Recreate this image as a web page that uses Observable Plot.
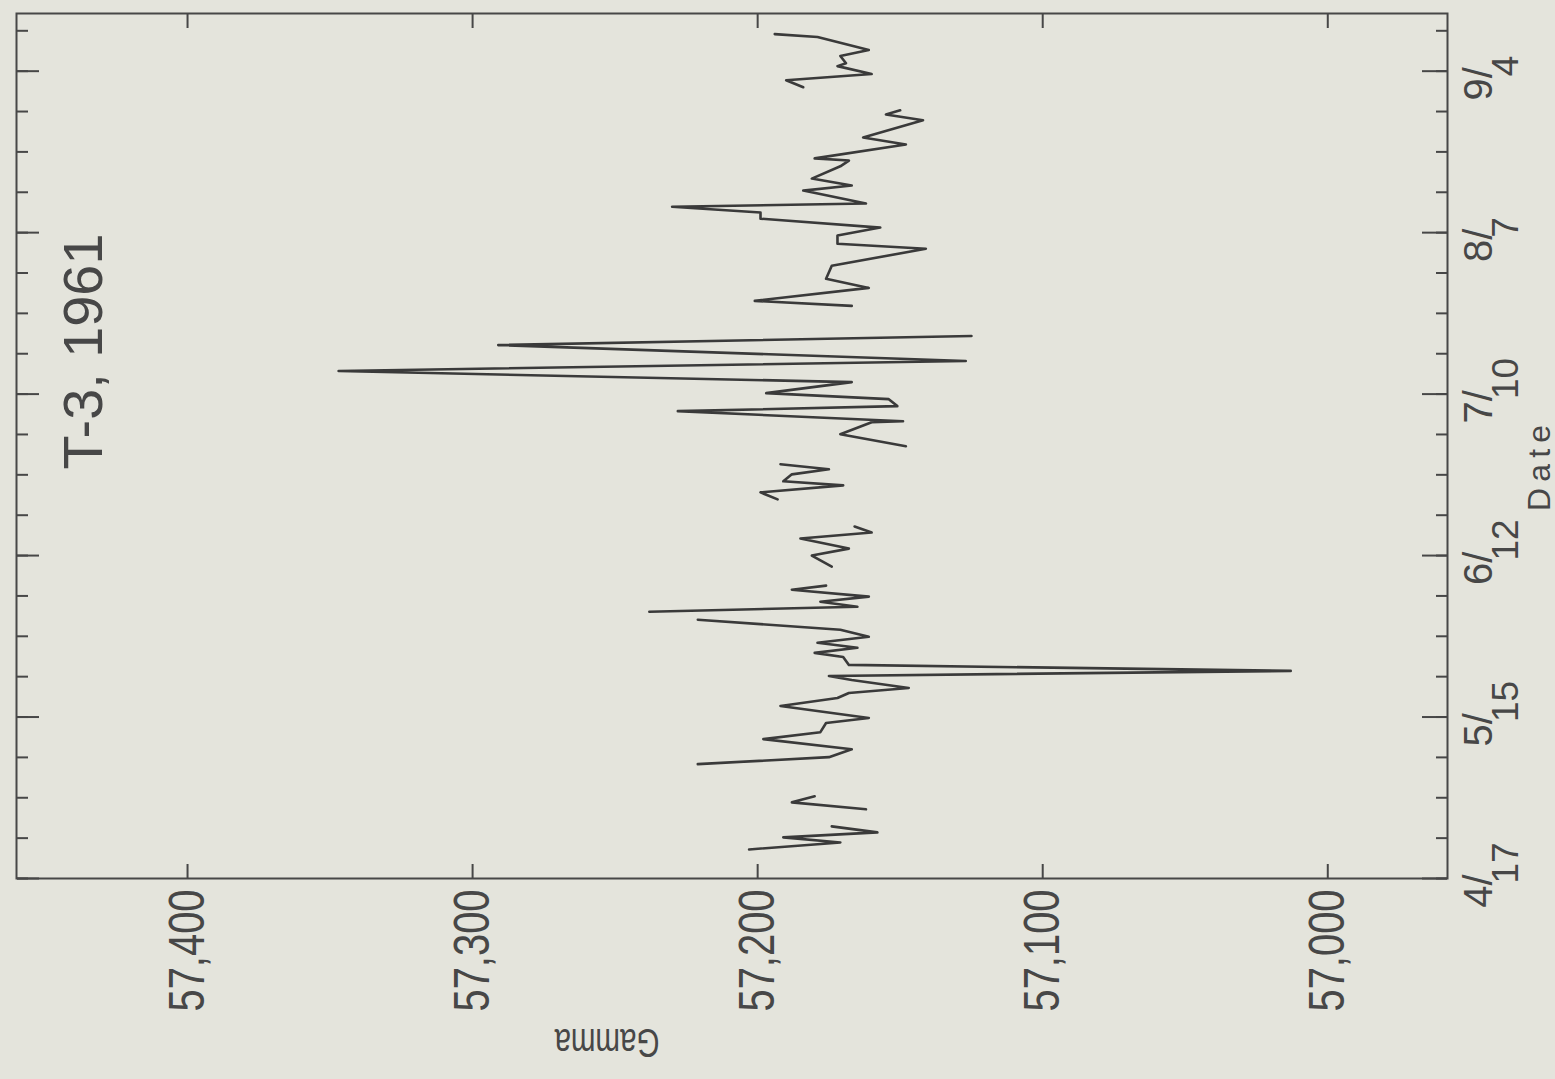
<!DOCTYPE html>
<html>
<head>
<meta charset="utf-8">
<script src="https://cdn.jsdelivr.net/npm/d3@7"></script>
<script src="https://cdn.jsdelivr.net/npm/@observablehq/plot@0.6"></script>
<style>
  html, body { margin: 0; padding: 0; background: #e4e4dc; overflow: hidden; width: 1555px; height: 1079px; }
  #wrap { position: absolute; left: 0; top: 0; width: 1079px; height: 1555px;
          transform-origin: 0 0; transform: translate(0, 1079px) rotate(-90deg); }
</style>
</head>
<body>
<div id="wrap"></div>
<script>
// ---- text ----
const title = "T-3, 1961";
const xLabel = "Date";
const yLabel = "Gamma";

// ---- axis ticks ----
const gammaTicks = [57000, 57100, 57200, 57300, 57400];
const weekTicks = ["1961-04-17","1961-04-24","1961-05-01","1961-05-08","1961-05-15","1961-05-22",
  "1961-05-29","1961-06-05","1961-06-12","1961-06-19","1961-06-26","1961-07-03","1961-07-10",
  "1961-07-17","1961-07-24","1961-07-31","1961-08-07","1961-08-14","1961-08-21","1961-08-28",
  "1961-09-04","1961-09-11"];
const labelDates = ["1961-04-17","1961-05-15","1961-06-12","1961-07-10","1961-08-07","1961-09-04"];
const labelNum = ["4/","5/","6/","7/","8/","9/"];
const labelDen = ["17","15","12","10","7","4"];

// ---- series: the record is broken into 9 pieces (gaps between them) ----
const segmentSizes = [5, 3, 22, 6, 6, 7, 13, 24, 9];
const dates = [
  "1961-04-22T01","1961-04-23T06","1961-04-24T03","1961-04-25T00","1961-04-26T01",
  "1961-04-29T00","1961-04-30T05","1961-05-01T06",
  "1961-05-06T20","1961-05-08T01","1961-05-09T10","1961-05-11T04","1961-05-12T09","1961-05-13T23",
  "1961-05-14T20","1961-05-16T22","1961-05-18T07","1961-05-19T04","1961-05-20T01","1961-05-21T10",
  "1961-05-22T03","1961-05-23T00","1961-05-24T01","1961-05-25T10","1961-05-26T03","1961-05-27T00",
  "1961-05-27T21","1961-05-28T22","1961-05-30T03","1961-05-31T21",
  "1961-06-02T06","1961-06-03T03","1961-06-04T00","1961-06-04T21","1961-06-06T02","1961-06-06T19",
  "1961-06-10T02","1961-06-12T00","1961-06-13T05","1961-06-14T23","1961-06-16T00","1961-06-17T01",
  "1961-06-21T18","1961-06-22T23","1961-06-24T04","1961-06-24T21","1961-06-26T02","1961-06-26T23","1961-06-27T20",
  "1961-06-30T23","1961-07-03T01","1961-07-05T03","1961-07-05T07","1961-07-07T01","1961-07-07T22",
  "1961-07-09T03","1961-07-10T04","1961-07-12T02","1961-07-14T00","1961-07-15T18","1961-07-18T12","1961-07-20T02",
  "1961-07-25T07","1961-07-26T04","1961-07-28T10","1961-07-30T00","1961-08-01T06","1961-08-04T05",
  "1961-08-05T02","1961-08-06T12","1961-08-07T21","1961-08-09T10","1961-08-10T12","1961-08-11T12",
  "1961-08-12T01","1961-08-14T07","1961-08-15T04","1961-08-16T09","1961-08-18T12","1961-08-19T12",
  "1961-08-19T21","1961-08-22T07","1961-08-23T12","1961-08-26T12","1961-08-27T12","1961-08-28T05",
  "1961-09-01T05","1961-09-02T10","1961-09-03T12","1961-09-04T21","1961-09-05T09","1961-09-06T15",
  "1961-09-07T16","1961-09-09T22","1961-09-10T10"
];
const gamma = [
  57203,57171,57191,57158,57174,
  57162,57188,57180,
  57221,57175,57167,57198,57178,57176,
  57161,57192,57172,57168,57147,57167,
  57175,57013,57168,57170,57180,57165,
  57179,57161,57171,57221,
  57238,57165,57178,57161,57188,57176,
  57174,57181,57168,57185,57160,57166,
  57193,57199,57170,57191,57188,57175,57192,
  57148,57171,57160,57149,57228,57151,
  57154,57197,57167,57347,57127,57291,57125,
  57167,57201,57161,57176,57174,57141,
  57172,57172,57157,57199,57199,57230,
  57162,57184,57167,57181,57171,57168,
  57180,57148,57163,57142,57155,57150,
  57184,57190,57160,57172,57169,57171,
  57161,57179,57194
];

// ---- build ----
const parseT = d3.utcParse("%Y-%m-%dT%H");
const parseD = d3.utcParse("%Y-%m-%d");
const segment = segmentSizes.flatMap((n, k) => Array(n).fill(k + 1));
const data = dates.map((d, i) => ({date: parseT(d), gamma: gamma[i], seg: segment[i]}));
const weekDates = weekTicks.map(parseD);
const labels = labelDates.map((d, i) => ({date: parseD(d), num: labelNum[i], den: labelDen[i]}));

const ink = "#474747";
const font = "'Liberation Sans','DejaVu Sans',sans-serif";
const blank = () => "";
const fmt = d3.format(",");

const chart = Plot.plot({
  width: 1079,
  height: 1555,
  marginLeft: 200,
  marginRight: 14,
  marginTop: 16,
  marginBottom: 108,
  style: {background: "transparent", color: ink, fontFamily: font, overflow: "visible"},
  x: {type: "utc", domain: [parseD("1961-04-17"), parseD("1961-09-14")]},
  y: {domain: [56958, 57460]},
  marks: [
    Plot.frame({stroke: ink, strokeWidth: 2}),
    Plot.axisX({anchor: "bottom", ticks: weekDates, tickSize: -11, tickFormat: blank, label: null, strokeWidth: 2}),
    Plot.axisX({anchor: "top", ticks: weekDates, tickSize: -11, tickFormat: blank, label: null, strokeWidth: 2}),
    Plot.axisX({anchor: "bottom", ticks: labels.map(d => d.date), tickSize: -25, tickFormat: blank, label: null, strokeWidth: 2}),
    Plot.axisX({anchor: "top", ticks: labels.map(d => d.date), tickSize: -22, tickFormat: blank, label: null, strokeWidth: 2}),
    Plot.axisY({anchor: "left", ticks: gammaTicks, tickSize: -15, tickFormat: blank, label: null, strokeWidth: 2}),
    Plot.axisY({anchor: "right", ticks: gammaTicks, tickSize: -15, tickFormat: blank, label: null, strokeWidth: 2}),
    Plot.axisY({anchor: "left", ticks: gammaTicks, tickSize: 0, tickPadding: 11, tickFormat: fmt,
                label: null, fontSize: 50, fill: ink}),
    Plot.text(labels, {x: "date", text: "num", frameAnchor: "bottom", lineAnchor: "top", textAnchor: "end",
                       dy: 16, dx: 4, fontSize: 40, fill: ink}),
    Plot.text(labels, {x: "date", text: "den", frameAnchor: "bottom", lineAnchor: "top", textAnchor: "start",
                       dy: 44, dx: -5, fontSize: 37, fill: ink}),
    Plot.text([xLabel], {text: d => d, frameAnchor: "bottom", lineAnchor: "top", textAnchor: "middle",
                         dy: 80, dx: -22, fontSize: 32, fill: ink}),
    Plot.text([yLabel], {text: d => d, frameAnchor: "left", lineAnchor: "bottom", textAnchor: "middle",
                         rotate: -90, dx: -150, dy: -125, fontSize: 40, fill: ink}),
    Plot.text([title], {text: d => d, frameAnchor: "top-left", lineAnchor: "top", textAnchor: "start",
                        dx: 409, dy: 46, fontSize: 56, fill: ink}),
    Plot.line(data, {x: "date", y: "gamma", z: "seg", stroke: "#3a3a3a", strokeWidth: 2.6, curve: "linear"})
  ]
});

const gammaText = new Set(gammaTicks.map(fmt));
d3.select(chart).selectAll("text").each(function() {
  const t = this.textContent, s = d3.select(this);
  if (gammaText.has(t)) s.attr("textLength", 122).attr("lengthAdjust", "spacingAndGlyphs");
  if (t === xLabel) s.attr("textLength", 86).attr("lengthAdjust", "spacing");
  if (t === yLabel) s.attr("textLength", 105).attr("lengthAdjust", "spacingAndGlyphs");
  if (t === title) s.attr("textLength", 236).attr("lengthAdjust", "spacingAndGlyphs");
});
document.getElementById("wrap").appendChild(chart);
</script>
</body>
</html>
